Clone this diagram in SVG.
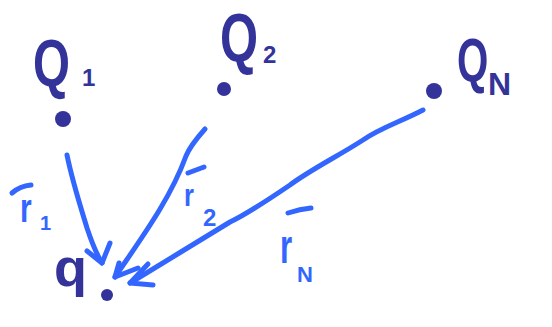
<svg xmlns="http://www.w3.org/2000/svg" width="552" height="327" viewBox="0 0 552 327">
  <style>
    .dark { fill: #33339a; font-family: "Liberation Sans", Arial, sans-serif; font-weight: bold; }
    .blue { fill: #3366ff; font-family: "Liberation Sans", Arial, sans-serif; font-weight: bold; }
    .dot { fill: #33339a; }
    .stroke { fill: none; stroke: #3366ff; stroke-width: 5; stroke-linecap: round; stroke-linejoin: round; }
  </style>
  <rect width="552" height="327" fill="#ffffff"/>

  <g id="Q1">
    <circle class="dot" cx="63" cy="119" r="8"/>
    <text class="dark" x="33" y="86" font-size="66" transform="translate(33 86) scale(0.72 1) translate(-33 -86)">Q</text>
    <text class="dark" x="82" y="86" font-size="24">1</text>
  </g>

  <g id="Q2">
    <circle class="dot" cx="224" cy="89" r="7"/>
    <text class="dark" x="220" y="61" font-size="68" transform="translate(220 61) scale(0.72 1) translate(-220 -61)">Q</text>
    <text class="dark" x="263" y="63" font-size="24">2</text>
  </g>

  <g id="QN">
    <circle class="dot" cx="434" cy="91" r="8"/>
    <text class="dark" x="457" y="81" font-size="62" transform="translate(457 81) scale(0.65 1) translate(-457 -81)">Q</text>
    <text class="dark" x="488" y="95" font-size="32">N</text>
  </g>

  <g id="q">
    <circle class="dot" cx="107" cy="295" r="6"/>
    <text class="dark" x="54" y="286" font-size="54">q</text>
  </g>

  <g id="connectors">
    <path class="stroke" d="M67 155 C72 180 80 205 87 228 C92 243 97 255 102 263"/>
    <path class="stroke" d="M87 251 L102 263 L110 243"/>
    <path class="stroke" d="M205 129 C197 138 190 146 186 156 C170 200 140 240 115 277"/>
    <path class="stroke" d="M119 263 L115 277 L138 268"/>
    <path class="stroke" d="M423 110 C400 122 380 128 363 140 C340 155 310 170 290 185 C265 202 245 215 230 222 C200 240 160 265 130 283"/>
    <path class="stroke" d="M148 264 L130 283 L153 285"/>
  </g>

  <g id="label-r1">
    <path class="stroke" d="M12 193 Q20 186 31 185"/>
    <text class="blue" x="20" y="222" font-size="40" transform="translate(20 222) scale(0.75 1) translate(-20 -222)">r</text>
    <text class="blue" x="40" y="230" font-size="20">1</text>
  </g>

  <g id="label-r2">
    <path class="stroke" d="M188 173 L204 167"/>
    <text class="blue" x="184" y="206" font-size="32" transform="translate(184 206) scale(0.8 1) translate(-184 -206)">r</text>
    <text class="blue" x="203" y="226" font-size="24">2</text>
  </g>

  <g id="label-rN">
    <path class="stroke" d="M288 213 Q300 209 311 208"/>
    <text class="blue" x="280" y="263" font-size="48" transform="translate(280 263) scale(0.65 1) translate(-280 -263)">r</text>
    <text class="blue" x="297" y="282" font-size="22">N</text>
  </g>
</svg>
